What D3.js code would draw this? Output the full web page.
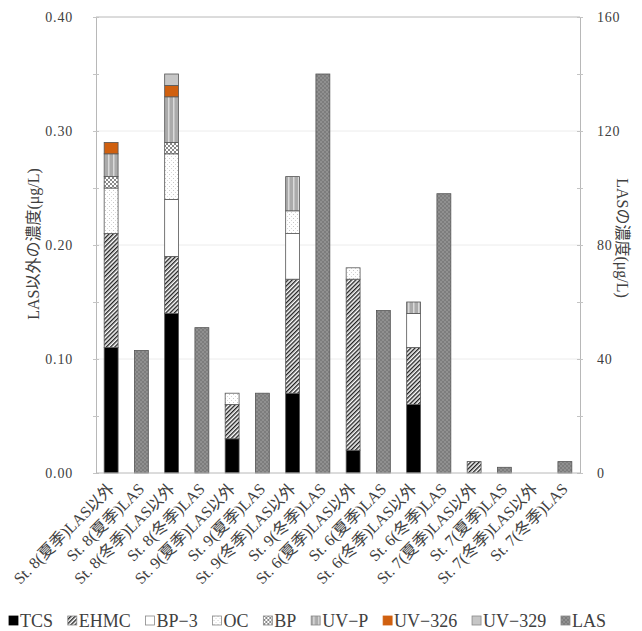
<!DOCTYPE html>
<html>
<head>
<meta charset="utf-8">
<script src="https://cdn.jsdelivr.net/npm/d3@7"></script>
<style>
  body { margin: 0; background: #fff; }
  text { font-family: "Liberation Serif", "Noto Sans CJK JP", serif; fill: #404040; }
</style>
</head>
<body>
<div id="chart"></div>
<script>
// categories (station / season / group)
var categories = [
  "St. 8(夏季)LAS以外", "St. 8(夏季)LAS", "St. 8(冬季)LAS以外", "St. 8(冬季)LAS",
  "St. 9(夏季)LAS以外", "St. 9(夏季)LAS", "St. 9(冬季)LAS以外", "St. 9(冬季)LAS",
  "St. 6(夏季)LAS以外", "St. 6(夏季)LAS", "St. 6(冬季)LAS以外", "St. 6(冬季)LAS",
  "St. 7(夏季)LAS以外", "St. 7(夏季)LAS", "St. 7(冬季)LAS以外", "St. 7(冬季)LAS"
];

// non-LAS compounds, µg/L (left axis)
var seriesNames = ["TCS", "EHMC", "BP-3", "OC", "BP", "UV-P", "UV-326", "UV-329"];
var TCS    = [0.11, 0, 0.14, 0, 0.03, 0, 0.07, 0, 0.02, 0, 0.06, 0, 0,    0, 0, 0];
var EHMC   = [0.10, 0, 0.05, 0, 0.03, 0, 0.10, 0, 0.15, 0, 0.05, 0, 0.01, 0, 0, 0];
var BP3    = [0,    0, 0.05, 0, 0,    0, 0.04, 0, 0,    0, 0.03, 0, 0,    0, 0, 0];
var OC     = [0.04, 0, 0.04, 0, 0.01, 0, 0.02, 0, 0.01, 0, 0,    0, 0,    0, 0, 0];
var BP     = [0.01, 0, 0.01, 0, 0,    0, 0,    0, 0,    0, 0,    0, 0,    0, 0, 0];
var UVP    = [0.02, 0, 0.04, 0, 0,    0, 0.03, 0, 0,    0, 0.01, 0, 0,    0, 0, 0];
var UV326  = [0.01, 0, 0.01, 0, 0,    0, 0,    0, 0,    0, 0,    0, 0,    0, 0, 0];
var UV329  = [0,    0, 0.01, 0, 0,    0, 0,    0, 0,    0, 0,    0, 0,    0, 0, 0];

// LAS, µg/L (right axis)
var LAS    = [0, 43, 0, 51, 0, 28, 0, 140, 0, 57, 0, 98, 0, 2, 0, 4];

// tick values
var leftTicks = [0, 0.10, 0.20, 0.30, 0.40];
var rightTicks = [0, 40, 80, 120, 160];
var legendNames = ["TCS", "EHMC", "BP-3", "OC", "BP", "UV-P", "UV-326", "UV-329", "LAS"];

var svgWidth = 642, svgHeight = 631;
var margin = { top: 17, right: 62, bottom: 158, left: 96 };
var chartWidth = svgWidth - margin.left - margin.right;
var chartHeight = svgHeight - margin.top - margin.bottom;

var svg = d3.select("#chart").append("svg")
  .attr("width", svgWidth)
  .attr("height", svgHeight);

//PATTERNS for the fills
var defs = svg.append("defs");

var hatch = defs.append("pattern").attr("id", "p-ehmc")
  .attr("patternUnits", "userSpaceOnUse").attr("width", 3).attr("height", 3)
  .attr("patternTransform", "rotate(45)");
hatch.append("rect").attr("width", 3).attr("height", 3).attr("fill", "#fff");
hatch.append("line").attr("x1", 0.7).attr("y1", 0).attr("x2", 0.7).attr("y2", 3)
  .attr("stroke", "#222").attr("stroke-width", 1.4);

var dots = defs.append("pattern").attr("id", "p-oc")
  .attr("patternUnits", "userSpaceOnUse").attr("width", 4).attr("height", 4);
dots.append("rect").attr("width", 4).attr("height", 4).attr("fill", "#fff");
dots.append("rect").attr("x", 1).attr("y", 1).attr("width", 1).attr("height", 1).attr("fill", "#c8c8c8");
dots.append("rect").attr("x", 3).attr("y", 3).attr("width", 1).attr("height", 1).attr("fill", "#d8d8d8");

var checker = defs.append("pattern").attr("id", "p-bp")
  .attr("patternUnits", "userSpaceOnUse").attr("width", 4).attr("height", 4);
checker.append("rect").attr("width", 4).attr("height", 4).attr("fill", "#fff");
checker.append("rect").attr("width", 2).attr("height", 2).attr("fill", "#8a8a8a");
checker.append("rect").attr("x", 2).attr("y", 2).attr("width", 2).attr("height", 2).attr("fill", "#8a8a8a");

var vlines = defs.append("pattern").attr("id", "p-uvp")
  .attr("patternUnits", "userSpaceOnUse").attr("width", 5).attr("height", 5);
vlines.append("rect").attr("width", 5).attr("height", 5).attr("fill", "#ababab");
vlines.append("rect").attr("x", 2).attr("width", 1.5).attr("height", 5).attr("fill", "#dadada");

var lasDots = defs.append("pattern").attr("id", "p-las")
  .attr("patternUnits", "userSpaceOnUse").attr("width", 4).attr("height", 4);
lasDots.append("rect").attr("width", 4).attr("height", 4).attr("fill", "#7d7d7d");
lasDots.append("circle").attr("cx", 1).attr("cy", 1).attr("r", 0.8).attr("fill", "#a9a9a9");
lasDots.append("circle").attr("cx", 3).attr("cy", 3).attr("r", 0.8).attr("fill", "#a9a9a9");

var fills = {
  "TCS": "#000",
  "EHMC": "url(#p-ehmc)",
  "BP-3": "#fff",
  "OC": "url(#p-oc)",
  "BP": "url(#p-bp)",
  "UV-P": "url(#p-uvp)",
  "UV-326": "#d0600f",
  "UV-329": "#c6c6c6",
  "LAS": "url(#p-las)"
};

var chartGroup = svg.append("g")
  .attr("transform", `translate(${margin.left}, ${margin.top})`);

//SCALES
var xBand = d3.scaleBand()
  .domain(categories)
  .range([0, chartWidth])
  .paddingInner(0.54)
  .paddingOuter(0.27);

var yLeft = d3.scaleLinear().domain([0, 0.40]).range([chartHeight, 0]);
var yRight = d3.scaleLinear().domain([0, 160]).range([chartHeight, 0]);

//gridlines (very faint)
chartGroup.append("g")
  .selectAll("line")
  .data(leftTicks.slice(1, -1))
  .enter()
  .append("line")
  .attr("x1", 0).attr("x2", chartWidth)
  .attr("y1", d => yLeft(d)).attr("y2", d => yLeft(d))
  .attr("stroke", "#ececec");

//frame top line
chartGroup.append("line")
  .attr("x1", 0).attr("x2", chartWidth).attr("y1", 0).attr("y2", 0)
  .attr("stroke", "#b8b8b8");

//STACKED non-LAS bars
var rows = categories.map(function(c, i) {
  return {
    cat: c, "TCS": TCS[i], "EHMC": EHMC[i], "BP-3": BP3[i], "OC": OC[i],
    "BP": BP[i], "UV-P": UVP[i], "UV-326": UV326[i], "UV-329": UV329[i]
  };
});
var stacked = d3.stack().keys(seriesNames)(rows);

chartGroup.append("g")
  .selectAll("g")
  .data(stacked)
  .enter()
  .append("g")
  .attr("fill", d => fills[d.key])
  .selectAll("rect")
  .data(d => d.filter(s => s[1] - s[0] > 1e-9))
  .enter()
  .append("rect")
  .attr("x", d => xBand(d.data.cat))
  .attr("width", xBand.bandwidth())
  .attr("y", d => yLeft(d[1]))
  .attr("height", d => yLeft(d[0]) - yLeft(d[1]))
  .attr("stroke", "#555")
  .attr("stroke-width", 0.8);

//LAS bars on right axis
chartGroup.append("g")
  .selectAll("rect")
  .data(categories.map((c, i) => ({ cat: c, v: LAS[i] })).filter(d => d.v > 0))
  .enter()
  .append("rect")
  .attr("x", d => xBand(d.cat))
  .attr("width", xBand.bandwidth())
  .attr("y", d => yRight(d.v))
  .attr("height", d => chartHeight - yRight(d.v))
  .attr("fill", fills["LAS"])
  .attr("stroke", "#555")
  .attr("stroke-width", 0.8);

//AXES
var leftAxis = d3.axisLeft(yLeft)
  .tickValues(d3.range(0, 9).map(i => i * 0.05))
  .tickFormat(d => (Math.round(d * 100) % 10 === 0) ? d3.format(".2f")(d) : "")
  .tickSizeOuter(0)
  .tickPadding(17);
var gl = chartGroup.append("g").call(leftAxis);

var rightAxis = d3.axisRight(yRight)
  .tickValues(d3.range(0, 9).map(i => i * 20))
  .tickFormat(d => (d % 40 === 0) ? d : "")
  .tickSizeOuter(0)
  .tickPadding(11);
var gr = chartGroup.append("g")
  .attr("transform", `translate(${chartWidth}, 0)`)
  .call(rightAxis);

[gl, gr].forEach(function(g) {
  g.select(".domain").attr("stroke", "#b8b8b8");
  g.selectAll(".tick line").attr("x1", -3).attr("x2", 3).attr("stroke", "#c4c4c4");
  g.selectAll(".tick text")
    .attr("font-size", "14px")
    .attr("font-family", "Liberation Serif")
    .attr("fill", "#444")
    .style("letter-spacing", "0.8px");
});

//bottom axis line
chartGroup.append("line")
  .attr("x1", 0).attr("x2", chartWidth)
  .attr("y1", chartHeight).attr("y2", chartHeight)
  .attr("stroke", "#b8b8b8");

//rotated category labels
chartGroup.append("g")
  .selectAll("text")
  .data(categories)
  .enter()
  .append("text")
  .attr("transform", d => `translate(${xBand(d) + xBand.bandwidth() / 2 + 4}, ${chartHeight + 17}) rotate(-45)`)
  .attr("text-anchor", "end")
  .attr("font-size", "16px")
  .attr("fill", "#4a4a4a")
  .text(d => d);

//Axis titles
svg.append("text")
  .attr("transform", `translate(39, 244) rotate(-90)`)
  .attr("text-anchor", "middle")
  .attr("font-size", "16px")
  .text("LAS以外の濃度(μg/L)");

svg.append("text")
  .attr("transform", `translate(617, 238) rotate(90)`)
  .attr("text-anchor", "middle")
  .attr("font-size", "16px")
  .text("LASの濃度(μg/L)");

//LEGEND (flow layout spread across the bottom)
var legend = svg.append("g").attr("transform", "translate(0, 627)");
var items = legend.selectAll("g")
  .data(legendNames)
  .enter()
  .append("g");

items.append("rect")
  .attr("width", 9).attr("height", 9)
  .attr("y", -11)
  .attr("fill", d => fills[d])
  .attr("stroke", d => d === "TCS" ? "#000" : (d === "UV-326" ? "#d0600f" : "#888"))
  .attr("stroke-width", 0.8);

items.append("text")
  .attr("x", 11)
  .attr("font-size", "18px")
  .attr("fill", "#333")
  .text(d => d.replace("-", "\u2212"));

var widths = [];
items.each(function() { widths.push(11 + d3.select(this).select("text").node().getComputedTextLength()); });
var legendStart = 9, legendEnd = 606;
var gap = (legendEnd - legendStart - d3.sum(widths)) / (widths.length - 1);
var cursor = legendStart;
items.attr("transform", function(d, i) {
  var t = `translate(${cursor}, 0)`;
  cursor += widths[i] + gap;
  return t;
});
</script>
</body>
</html>
